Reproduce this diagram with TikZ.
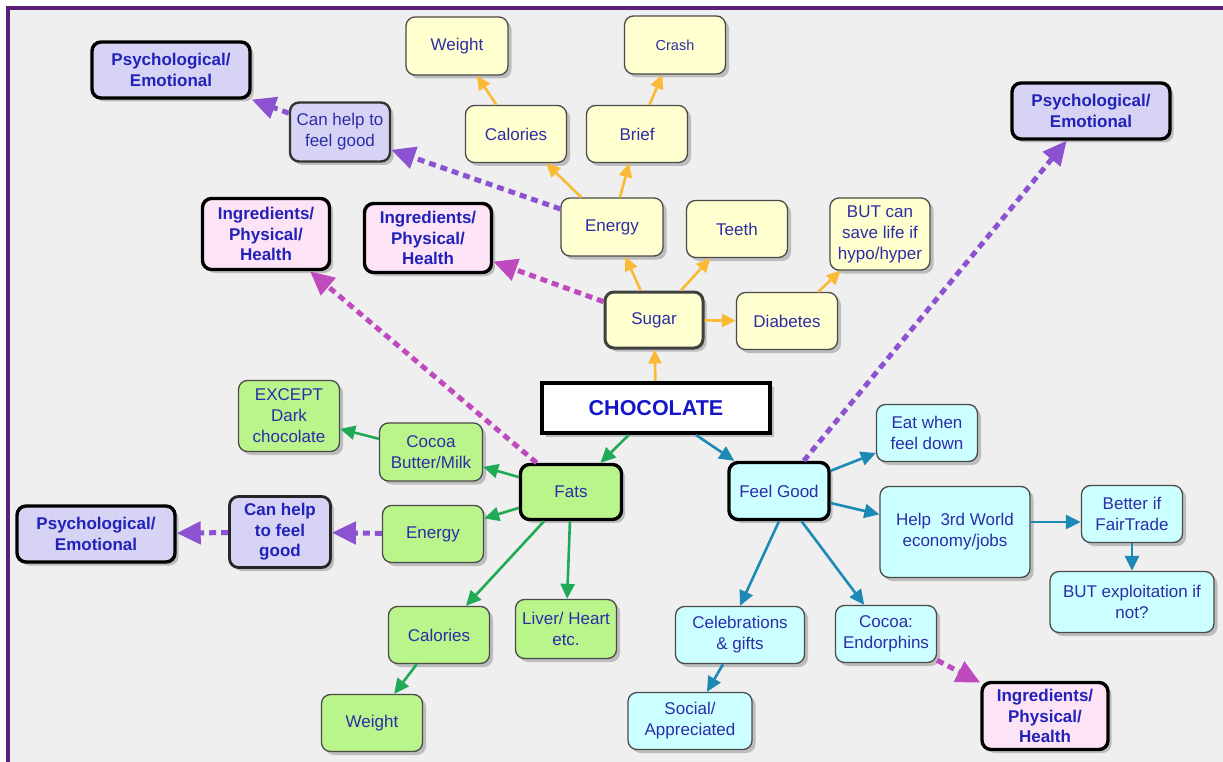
\documentclass[tikz,border=0pt]{standalone}
\usepackage{fontspec}
\setmainfont{Liberation Sans}
\usetikzlibrary{arrows.meta,shadows}
\definecolor{bgc}{HTML}{EFEFEF}
\definecolor{framec}{HTML}{5B1F78}
\definecolor{txt}{HTML}{2D2DA8}
\definecolor{txtb}{HTML}{2222B8}
\definecolor{txtc}{HTML}{1515C8}
\definecolor{yfill}{HTML}{FFFFD0}
\definecolor{lfill}{HTML}{D6D3F5}
\definecolor{pfill}{HTML}{FDE3F6}
\definecolor{gfill}{HTML}{BAF58B}
\definecolor{cfill}{HTML}{CCFFFF}
\definecolor{bord}{HTML}{4A4A4A}
\definecolor{orng}{HTML}{FABA35}
\definecolor{purp}{HTML}{8C52D2}
\definecolor{magc}{HTML}{BE4ABE}
\definecolor{grn}{HTML}{20AA55}
\definecolor{tealc}{HTML}{1D8AB5}
\begin{document}
\begin{tikzpicture}[x=1pt,y=-1pt,
  box/.style={rounded corners=9pt, align=center, text=txt, inner sep=2pt,
    font=\fontsize{17}{21}\selectfont,
    drop shadow={shadow xshift=3.5pt, shadow yshift=-3.5pt, fill=black!45}},
  thinb/.style={draw=bord, line width=1.3pt},
  medb/.style={draw=black!80, line width=2.4pt},
  thickb/.style={draw=black, line width=3.4pt},
  boldt/.style={font=\fontsize{17}{20.5}\selectfont\bfseries, text=txtb},
  yel/.style={box, thinb, fill=yfill},
  lav/.style={box, fill=lfill},
  pnk/.style={box, thickb, boldt, fill=pfill},
  grnb/.style={box, thinb, fill=gfill},
  cyn/.style={box, thinb, fill=cfill},
  sz/.style n args={2}{minimum width=#1pt, minimum height=#2pt},
  oarr/.style={draw=orng, line width=2.6pt, -{Triangle[length=14pt,width=13pt]}},
  garr/.style={draw=grn, line width=2.6pt, -{Triangle[length=15pt,width=14pt]}},
  tarr/.style={draw=tealc, line width=2.6pt, -{Triangle[length=15pt,width=14pt]}},
  parr/.style={draw=purp, line width=5pt, dash pattern=on 7pt off 5pt, -{Triangle[length=24pt,width=22pt]}},
  marr/.style={draw=magc, line width=5pt, dash pattern=on 7pt off 5pt, -{Triangle[length=24pt,width=22pt]}}
]
\useasboundingbox (0,0) rectangle (1223,762);
\fill[white] (0,0) rectangle (1223,762);
\fill[bgc] (8,8) rectangle (1223,762);
\draw[framec, line width=4pt] (7.5,762) -- (7.5,8) -- (1223,8);

% yellow
\node[yel, sz={102}{58}] (yWeight) at (457,46) {Weight};
\node[yel, sz={101}{58}, font=\fontsize{14.5}{18}\selectfont] (yCrash) at (675,45) {Crash};
\node[yel, sz={101}{57}] (yCal) at (516,134) {Calories};
\node[yel, sz={101}{57}] (yBrief) at (637,134) {Brief};
\node[yel, sz={102}{58}] (yEnergy) at (612,227) {Energy};
\node[yel, sz={101}{57}] (yTeeth) at (737,229) {Teeth};
\node[yel, sz={100}{72}] (yBut) at (880,234) {BUT can\\save life if\\hypo/hyper};
\node[yel, sz={98}{56}, draw=black!75, line width=3pt] (ySugar) at (654,320) {Sugar};
\node[yel, sz={101}{57}] (yDiab) at (787,321) {Diabetes};

% centre
\node[draw=black, line width=4pt, fill=white, minimum width=228pt, minimum height=50pt,
  font=\fontsize{21.5}{24}\selectfont\bfseries, text=txtc,
  drop shadow={shadow xshift=3.5pt, shadow yshift=-3.5pt, fill=black!45}] (choc) at (656,408) {CHOCOLATE};

% lavender
\node[lav, thickb, boldt, sz={158}{56}] (psTL) at (171,70) {Psychological/\\Emotional};
\node[lav, medb, sz={100}{59}] (canT) at (340,132) {Can help to\\feel good};
\node[lav, thickb, boldt, sz={158}{56}] (psTR) at (1091,111) {Psychological/\\Emotional};
\node[lav, thickb, boldt, sz={158}{56}] (psL) at (96,534) {Psychological/\\Emotional};
\node[lav, draw=black!85, line width=2.8pt, boldt, sz={101}{71}] (canB) at (280,532) {Can help\\to feel\\good};

% pink
\node[pnk, sz={127}{71}] (inL) at (266,234) {Ingredients/\\Physical/\\Health};
\node[pnk, sz={127}{69}] (inM) at (428,238) {Ingredients/\\Physical/\\Health};
\node[pnk, sz={126}{67}] (inBR) at (1045,716) {Ingredients/\\Physical/\\Health};

% green
\node[grnb, sz={101}{71}] (gExc) at (289,416) {EXCEPT\\Dark\\chocolate};
\node[grnb, sz={103}{58}] (gCocoa) at (431,452) {Cocoa\\Butter/Milk};
\node[grnb, thickb, sz={101}{55}] (gFats) at (571,492) {Fats};
\node[grnb, sz={101}{57}] (gEnergy) at (433,534) {Energy};
\node[grnb, sz={101}{57}] (gCal) at (439,635) {Calories};
\node[grnb, sz={101}{59}] (gLiver) at (566,629) {Liver/ Heart\\etc.};
\node[grnb, sz={101}{57}] (gWeight) at (372,723) {Weight};

% cyan
\node[cyn, thickb, sz={100}{57}] (cFeel) at (779,491) {Feel Good};
\node[cyn, sz={101}{57}] (cEat) at (927,433) {Eat when\\feel down};
\node[cyn, sz={150}{91}] (cHelp) at (955,532) {Help\ \ 3rd World\\economy/jobs};
\node[cyn, sz={101}{57}] (cBetter) at (1132,514) {Better if\\FairTrade};
\node[cyn, sz={164}{61}] (cBut) at (1132,602) {BUT exploitation if\\not?};
\node[cyn, sz={129}{57}] (cCele) at (740,635) {Celebrations\\\& gifts};
\node[cyn, sz={124}{57}] (cSocial) at (690,721) {Social/\\Appreciated};
\node[cyn, sz={101}{57}] (cCocoa) at (886,634) {Cocoa:\\Endorphins};

% orange arrows
\draw[oarr] (choc) -- (ySugar);
\draw[oarr] (ySugar) -- (yEnergy);
\draw[oarr] (ySugar) -- (yTeeth);
\draw[oarr] (ySugar) -- (yDiab);
\draw[oarr] (yDiab) -- (yBut);
\draw[oarr] (yEnergy) -- (yCal);
\draw[oarr] (yEnergy) -- (yBrief);
\draw[oarr] (yCal) -- (yWeight);
\draw[oarr] (yBrief) -- (yCrash);

% dashed arrows
\draw[parr] (yEnergy) -- (canT);
\draw[parr] (canT) -- (psTL);
\draw[parr] (cFeel) -- (psTR);
\draw[parr] (gEnergy) -- (canB);
\draw[parr] (canB) -- (psL);
\draw[marr] (ySugar) -- (inM);
\draw[marr] (gFats) -- (inL);
\draw[marr] (cCocoa) -- (inBR);

% green arrows
\draw[garr] (choc) -- (gFats);
\draw[garr] (gFats) -- (gCocoa);
\draw[garr] (gCocoa) -- (gExc);
\draw[garr] (gFats) -- (gEnergy);
\draw[garr] (gFats) -- (gCal);
\draw[garr] (gFats) -- (gLiver);
\draw[garr] (gCal) -- (gWeight);

% teal arrows
\draw[tarr] (choc) -- (cFeel);
\draw[tarr] (cFeel) -- (cEat);
\draw[tarr] (cFeel) -- (cHelp);
\draw[tarr] (cHelp.east |- 0,522) -- (cBetter.west |- 0,522);
\draw[tarr] (cBetter) -- (cBut);
\draw[tarr] (cFeel.south) -- (cCele.north);
\draw[tarr] (cFeel) -- (cCocoa);
\draw[tarr] (cCele) -- (cSocial);
\end{tikzpicture}
\end{document}
